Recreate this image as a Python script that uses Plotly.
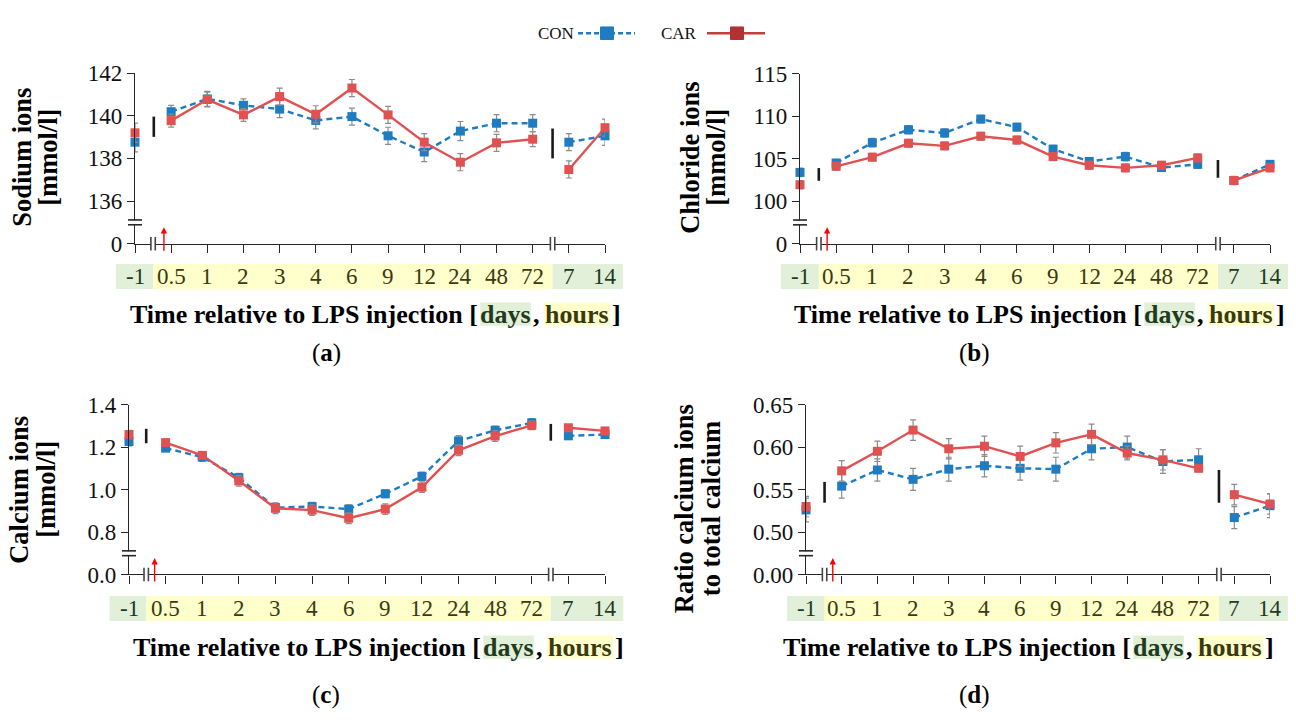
import plotly.graph_objects as go

W, H = 1296, 721
FONT = "Liberation Serif"

# ---------------- data ----------------
categories = ["-1", "0.5", "1", "2", "3", "4", "6", "9", "12", "24", "48", "72", "7", "14"]
cat_groups = ["d", "h", "h", "h", "h", "h", "h", "h", "h", "h", "h", "h", "d", "d"]

sodium_con = [138.76, 140.19, 140.79, 140.49, 140.31, 139.78, 139.96, 139.06, 138.3, 139.28, 139.65, 139.65, 138.76, 139.06]
sodium_con_err = [0.45, 0.3, 0.35, 0.3, 0.4, 0.4, 0.4, 0.4, 0.45, 0.45, 0.4, 0.4, 0.4, 0.45]
sodium_car = [139.2, 139.77, 140.76, 140.04, 140.9, 140.07, 141.3, 140.04, 138.76, 137.82, 138.73, 138.9, 137.48, 139.44]
sodium_car_err = [0.45, 0.3, 0.35, 0.3, 0.4, 0.4, 0.4, 0.4, 0.4, 0.4, 0.4, 0.35, 0.4, 0.4]

chloride_con = [103.39, 104.49, 106.89, 108.41, 108.03, 109.67, 108.72, 106.13, 104.68, 105.25, 103.96, 104.34, 102.44, 104.34]
chloride_con_err = [0.5, 0.45, 0.5, 0.5, 0.5, 0.45, 0.45, 0.45, 0.45, 0.5, 0.45, 0.45, 0.5, 0.45]
chloride_car = [101.94, 104.11, 105.18, 106.82, 106.51, 107.65, 107.2, 105.25, 104.23, 103.92, 104.23, 105.1, 102.44, 103.92]
chloride_car_err = [0.5, 0.45, 0.45, 0.45, 0.45, 0.45, 0.45, 0.45, 0.45, 0.45, 0.45, 0.45, 0.45, 0.45]

calcium_con = [1.226, 1.195, 1.153, 1.056, 0.915, 0.92, 0.908, 0.98, 1.062, 1.229, 1.279, 1.314, 1.253, 1.259]
calcium_con_err = [0.02, 0.015, 0.02, 0.02, 0.02, 0.02, 0.02, 0.018, 0.02, 0.025, 0.02, 0.02, 0.01, 0.01]
calcium_car = [1.259, 1.221, 1.161, 1.041, 0.912, 0.903, 0.865, 0.908, 1.011, 1.185, 1.252, 1.302, 1.291, 1.276]
calcium_car_err = [0.02, 0.015, 0.015, 0.025, 0.025, 0.025, 0.025, 0.025, 0.025, 0.025, 0.025, 0.02, 0.01, 0.01]

ratio_con = [0.526, 0.554, 0.573, 0.562, 0.574, 0.578, 0.575, 0.574, 0.598, 0.600, 0.583, 0.585, 0.517, 0.531]
ratio_con_err = [0.014, 0.014, 0.013, 0.013, 0.014, 0.013, 0.014, 0.014, 0.013, 0.013, 0.014, 0.013, 0.013, 0.014]
ratio_car = [0.530, 0.572, 0.595, 0.620, 0.598, 0.601, 0.589, 0.605, 0.615, 0.593, 0.585, 0.575, 0.544, 0.533]
ratio_car_err = [0.012, 0.012, 0.012, 0.012, 0.012, 0.012, 0.012, 0.012, 0.012, 0.008, 0.012, 0.0, 0.012, 0.012]

# ---------------- styling / layout config ----------------
CON_COLOR = "#1F7CC1"
CAR_COLOR = "#E05252"
ERR_COLOR = "#8C8C8C"
AX_COLOR = "#262626"
GREEN_BG = "#E2F0D9"
YELLOW_BG = "#FFFFCC"
GREEN_TXT = "#1F3A1F"
YELLOW_TXT = "#3A3A10"

panels = [
    dict(label="a", con=sodium_con, con_err=sodium_con_err, car=sodium_car, car_err=sodium_car_err,
         px_x0=135, px_x1=605, px_ybot=240, px_ytop=63.3, yrange=[134, 142],
         tickvals=[136, 138, 140, 142], ticktext=["136", "138", "140", "142"], zerotext="0",
         ybreak=135.0, xbreaks=[0.5, 11.55], arrow=0.8,
         bars=[(0.52, 139.96, 139.01), (11.55, 139.4, 138.0)],
         ytitle=["Sodium ions", "[mmol/l]"], ytitle_x=[22, 48], ytitle_y=151,
         cat_y=(261, 287), title_right=619, title_y=313, sub=(326, 353)),
    dict(label="b", con=chloride_con, con_err=chloride_con_err, car=chloride_car, car_err=chloride_car_err,
         px_x0=800, px_x1=1270, px_ybot=240, px_ytop=64, yrange=[95, 115],
         tickvals=[100, 105, 110, 115], ticktext=["100", "105", "110", "115"], zerotext="0",
         ybreak=97.5, xbreaks=[0.52, 11.56], arrow=0.75,
         bars=[(0.52, 103.9, 102.4), (11.56, 104.85, 102.76)],
         ytitle=["Chloride ions", "[mmol/l]"], ytitle_x=[690, 716], ytitle_y=151,
         cat_y=(261, 287), title_right=1283, title_y=313, sub=(974, 353)),
    dict(label="c", con=calcium_con, con_err=calcium_con_err, car=calcium_car, car_err=calcium_car_err,
         px_x0=129, px_x1=605, px_ybot=582.7, px_ytop=406.7, yrange=[0.6, 1.4],
         tickvals=[0.8, 1.0, 1.2, 1.4], ticktext=["0.8", "1.0", "1.2", "1.4"], zerotext="0.0",
         ybreak=0.7, xbreaks=[0.47, 11.52], arrow=0.7,
         bars=[(0.47, 1.286, 1.218), (11.52, 1.309, 1.23)],
         ytitle=["Calcium ions", "[mmol/l]"], ytitle_x=[19, 46], ytitle_y=495,
         cat_y=(605, 631), title_right=622, title_y=658, sub=(326, 708)),
    dict(label="d", con=ratio_con, con_err=ratio_con_err, car=ratio_car, car_err=ratio_car_err,
         px_x0=806, px_x1=1270, px_ybot=582.7, px_ytop=406.7, yrange=[0.45, 0.65],
         tickvals=[0.50, 0.55, 0.60, 0.65], ticktext=["0.50", "0.55", "0.60", "0.65"], zerotext="0.00",
         ybreak=0.475, xbreaks=[0.52, 11.57], arrow=0.75,
         bars=[(0.52, 0.559, 0.5345), (11.57, 0.573, 0.5345)],
         ytitle=["Ratio calcium ions", "to total calcium"], ytitle_x=[684, 711], ytitle_y=515,
         cat_y=(605, 631), title_right=1272, title_y=658, sub=(974, 708)),
]

# contiguous segments of the time axis (-1 day | hours | days)
SEGMENTS = []
for i, g in enumerate(cat_groups):
    if i == 0 or (g != cat_groups[i - 1]) or (i == 12):
        SEGMENTS.append([i])
    else:
        SEGMENTS[-1].append(i)


def px2x(px):
    return px / W


def py2y(py):
    return 1 - py / H


def xpx(p, i):
    return p["px_x0"] + i * (p["px_x1"] - p["px_x0"]) / (len(categories) - 1)


def ypx(p, v):
    y0, y1 = p["yrange"]
    return p["px_ybot"] - (v - y0) / (y1 - y0) * (p["px_ybot"] - p["px_ytop"])


def prect(x0, x1, y0, y1, color, layer="above"):
    return dict(type="rect", xref="paper", yref="paper", x0=px2x(x0), x1=px2x(x1),
                y0=py2y(y1), y1=py2y(y0), fillcolor=color, line=dict(width=0), layer=layer)


def pline(x0, y0, x1, y1, color, width, dash="solid"):
    return dict(type="line", xref="paper", yref="paper", x0=px2x(x0), x1=px2x(x1),
                y0=py2y(y0), y1=py2y(y1), line=dict(color=color, width=width, dash=dash), layer="above")


def with_gaps(vals, errs):
    xs, ys, es = [], [], []
    for k, seg in enumerate(SEGMENTS):
        if k:
            xs.append(None); ys.append(None); es.append(0)
        for i in seg:
            xs.append(i); ys.append(vals[i]); es.append(errs[i])
    return xs, ys, es


fig = go.Figure()
shapes = []
annotations = []
layout_axes = {}

for n, p in enumerate(panels):
    idx = "" if n == 0 else str(n + 1)
    xa, ya = "x" + idx, "y" + idx
    xkey, ykey = "xaxis" + idx, "yaxis" + idx
    y0 = p["yrange"][0]

    for name, vals, errs, color, dash in [("CON", p["con"], p["con_err"], CON_COLOR, "6px,4px"),
                                          ("CAR", p["car"], p["car_err"], CAR_COLOR, "solid")]:
        xs, ys, es = with_gaps(vals, errs)
        fig.add_trace(go.Scatter(
            x=xs, y=ys, xaxis=xa, yaxis=ya, mode="lines+markers", name=name, showlegend=False,
            line=dict(color=color, width=2.4, dash=dash),
            marker=dict(symbol="square", size=9, color=color),
            error_y=dict(type="data", array=es, color=ERR_COLOR, thickness=1.2, width=3),
            cliponaxis=False, connectgaps=False, hoverinfo="skip"))

    layout_axes[xkey] = dict(
        domain=[px2x(p["px_x0"]), px2x(p["px_x1"])], range=[0, 13], anchor=ya,
        showline=True, linecolor=AX_COLOR, linewidth=1.3, ticks="outside",
        tickvals=list(range(len(categories))), ticklen=8, tickwidth=1.3, tickcolor=AX_COLOR,
        showticklabels=False, showgrid=False, zeroline=False, fixedrange=True)
    layout_axes[ykey] = dict(
        domain=[py2y(p["px_ybot"]), py2y(p["px_ytop"])], range=p["yrange"], anchor=xa,
        showline=True, linecolor=AX_COLOR, linewidth=1.3, ticks="outside", ticklen=7,
        tickwidth=1.3, tickcolor=AX_COLOR,
        tickvals=[y0] + p["tickvals"], ticktext=[p["zerotext"]] + p["ticktext"],
        tickfont=dict(family=FONT, size=23, color="#111"),
        showgrid=False, zeroline=False, fixedrange=True)

    ax_x = p["px_x0"]
    ax_y = p["px_ybot"]
    # y-axis break mark
    by = ypx(p, p["ybreak"])
    shapes.append(prect(ax_x - 8, ax_x + 8, by - 2, by + 2, "white"))
    for dy in (-2.5, 2.5):
        shapes.append(pline(ax_x - 7, by + dy, ax_x + 7, by + dy, AX_COLOR, 1.6))
    # x-axis break marks
    for xb in p["xbreaks"]:
        bx = xpx(p, xb)
        shapes.append(prect(bx - 2, bx + 2, ax_y - 3, ax_y + 3, "white"))
        for dx in (-2.2, 2.2):
            shapes.append(pline(bx + dx, ax_y - 7, bx + dx, ax_y + 7, "#444", 1.6))
    # discontinuity bars inside the plot
    for bxi, bt, bb in p["bars"]:
        bx = xpx(p, bxi)
        shapes.append(pline(bx, ypx(p, bt), bx, ypx(p, bb), "#1A1A1A", 2.6))

    # LPS arrow
    annotations.append(dict(x=p["arrow"], xref=xa, y=py2y(ax_y - 17), yref="paper",
                            ax=0, ay=25, text="", showarrow=True, arrowhead=2, arrowsize=0.9,
                            arrowwidth=1.4, arrowcolor="#FF0000"))

    # category boxes
    cy0, cy1 = p["cat_y"]
    bounds = [-0.53, p["xbreaks"][0], p["xbreaks"][1], 13.5]
    for (a, b), col in zip(zip(bounds[:-1], bounds[1:]), [GREEN_BG, YELLOW_BG, GREEN_BG]):
        shapes.append(prect(xpx(p, a), xpx(p, b), cy0, cy1, col, layer="below"))
    for i, (c, g) in enumerate(zip(categories, cat_groups)):
        annotations.append(dict(x=px2x(xpx(p, i)), xref="paper", y=py2y((cy0 + cy1) / 2), yref="paper", text=c,
                                showarrow=False, xanchor="center", yanchor="middle",
                                font=dict(family=FONT, size=23, color=GREEN_TXT if g == "d" else YELLOW_TXT)))

    # x-axis title pieces with highlighted "days" / "hours"
    R = p["title_right"]
    ty = py2y(p["title_y"])
    tfont = 26
    close_w = 0.333 * tfont
    hours_w = 2.557 * tfont
    comma_w = 0.5 * tfont
    days_w = 1.945 * tfont
    hoursR = R - close_w
    hoursL = hoursR - hours_w
    daysR = hoursL - comma_w
    daysL = daysR - days_w
    hb0, hb1 = p["title_y"] - 12, p["title_y"] + 12
    shapes.append(prect(daysL, daysR, hb0, hb1, GREEN_BG, layer="below"))
    shapes.append(prect(hoursL, hoursR, hb0, hb1, YELLOW_BG, layer="below"))
    bf = lambda col: dict(family=FONT, size=tfont, color=col)
    annotations += [
        dict(x=px2x(daysL), y=ty, xref="paper", yref="paper", xanchor="right", yanchor="middle",
             text="<b>Time relative to LPS injection [</b>", showarrow=False, font=bf("#000")),
        dict(x=px2x((daysL + daysR) / 2), y=ty, xref="paper", yref="paper", xanchor="center", yanchor="middle",
             text="<b>days</b>", showarrow=False, font=bf(GREEN_TXT)),
        dict(x=px2x(daysR), y=ty, xref="paper", yref="paper", xanchor="left", yanchor="middle",
             text="<b>,</b>", showarrow=False, font=bf("#000")),
        dict(x=px2x((hoursL + hoursR) / 2), y=ty, xref="paper", yref="paper", xanchor="center", yanchor="middle",
             text="<b>hours</b>", showarrow=False, font=bf(YELLOW_TXT)),
        dict(x=px2x(hoursR), y=ty, xref="paper", yref="paper", xanchor="left", yanchor="middle",
             text="<b>]</b>", showarrow=False, font=bf("#000")),
    ]

    # y-axis title (two lines)
    for line_txt, lx in zip(p["ytitle"], p["ytitle_x"]):
        annotations.append(dict(x=px2x(lx), y=py2y(p["ytitle_y"]), xref="paper", yref="paper",
                                text="<b>" + line_txt + "</b>", textangle=-90, showarrow=False,
                                xanchor="center", yanchor="middle", font=dict(family=FONT, size=26.5, color="#000")))

    # sub-figure label
    annotations.append(dict(x=px2x(p["sub"][0]), y=py2y(p["sub"][1]), xref="paper", yref="paper",
                            text="(<b>" + p["label"] + "</b>)", showarrow=False, xanchor="center",
                            yanchor="middle", font=dict(family=FONT, size=25, color="#000")))

# ---------------- legend (text before symbol) ----------------
LEG_Y = 22
for name, tx, l0, l1, mx, col, mcol, dash in [("CON", 556, 578, 635, 607, CON_COLOR, CON_COLOR, "5px,3px"),
                                              ("CAR", 679, 707, 765, 737, "#C0403F", "#B03333", "solid")]:
    annotations.append(dict(x=px2x(tx), y=py2y(LEG_Y), xref="paper", yref="paper", text=name,
                            showarrow=False, xanchor="center", yanchor="middle",
                            font=dict(family=FONT, size=17, color="#111")))
    shapes.append(pline(l0, LEG_Y, l1, LEG_Y, col, 2.5, dash))
    shapes.append(dict(type="rect", xref="paper", yref="paper", x0=px2x(mx - 6.5), x1=px2x(mx + 6.5),
                       y0=py2y(LEG_Y + 6.5), y1=py2y(LEG_Y - 6.5), fillcolor=mcol,
                       line=dict(color=mcol, width=1), layer="above"))

fig.update_layout(
    width=W, height=H, margin=dict(l=0, r=0, t=0, b=0),
    paper_bgcolor="white", plot_bgcolor="white", showlegend=False,
    font=dict(family=FONT, color="#000"),
    shapes=shapes, annotations=annotations, **layout_axes)

fig.write_html("out.html", config={"displayModeBar": False})
